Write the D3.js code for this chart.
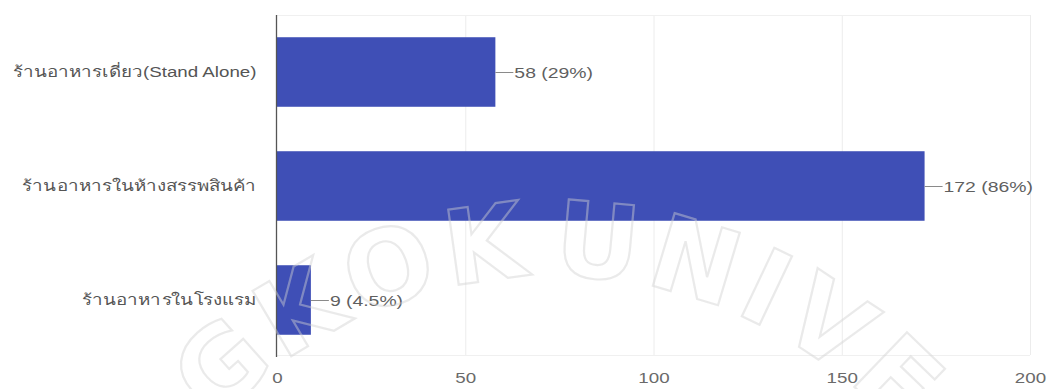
<!DOCTYPE html>
<html>
<head>
<meta charset="utf-8">
<script src="https://cdn.jsdelivr.net/npm/d3@7"></script>
<style>
  html, body { margin: 0; padding: 0; background: #fff; }
  svg { display: block; font-family: Arial, "Liberation Sans", Roboto, "Noto Sans", sans-serif; }
</style>
</head>
<body>
<svg id="chart" width="1049" height="389"></svg>
<script>
// Restaurant types and response counts
const categories = ["ร้านอาหารเดี่ยว(Stand Alone)", "ร้านอาหารในห้างสรรพสินค้า", "ร้านอาหารในโรงแรม"];
const counts = [58, 172, 9];
const percentLabels = ["29%", "86%", "4.5%"];
const xTicks = [0, 50, 100, 150, 200];
const sealWords = ["BANGKOK", "UNIVERSITY"];

const svg = d3.select("#chart");
const W = 1049, H = 389;
const plot = { left: 277, right: 1030, top: 15, bottom: 357 };
const stretch = 1.25; // wide text rendering

const x = d3.scaleLinear().domain([0, 200]).range([plot.left, plot.right]);
const y = d3.scaleBand().domain(categories).range([plot.top, plot.bottom])
  .paddingInner(0.39).paddingOuter(0.195);

// Light gridlines and plot frame
const grid = svg.append("g");
grid.selectAll("line.v").data(xTicks.slice(1)).join("line")
  .attr("x1", d => x(d) + 0.5).attr("x2", d => x(d) + 0.5)
  .attr("y1", plot.top).attr("y2", plot.bottom - 2)
  .attr("stroke", "#ececec").attr("stroke-width", 1);
grid.selectAll("line.h").data([plot.top, plot.bottom - 2]).join("line")
  .attr("x1", plot.left).attr("x2", plot.right)
  .attr("y1", d => d + 0.5).attr("y2", d => d + 0.5)
  .attr("stroke", "#f0f0f0").attr("stroke-width", 1);

// Bars
svg.append("g").selectAll("rect").data(categories).join("rect")
  .attr("x", x(0))
  .attr("y", d => y(d))
  .attr("width", (d, i) => x(counts[i]) - x(0))
  .attr("height", y.bandwidth())
  .attr("fill", "#3f4fb6");

// Value labels with short leader lines
const lab = svg.append("g");
categories.forEach((c, i) => {
  const cy = y(c) + y.bandwidth() / 2;
  const xe = x(counts[i]);
  lab.append("line")
    .attr("x1", xe).attr("x2", xe + 18)
    .attr("y1", cy + 0.5).attr("y2", cy + 0.5)
    .attr("stroke", "#8a8a8a").attr("stroke-width", 1);
  lab.append("text")
    .attr("transform", `translate(${xe + 19},${cy}) scale(${stretch},1)`)
    .attr("dy", "0.36em")
    .attr("font-size", 15.5).attr("fill", "#5f5f5f")
    .text(`${counts[i]} (${percentLabels[i]})`);
});

// Category axis
const yAxis = svg.append("g").attr("transform", `translate(${plot.left - 0.5},0)`)
  .call(d3.axisLeft(y).tickSize(0).tickPadding(16));
yAxis.select(".domain").remove();
yAxis.selectAll("text")
  .attr("transform", `scale(${stretch},1)`)
  .attr("font-size", 15).attr("fill", "#555");
svg.append("line")
  .attr("x1", plot.left - 0.5).attr("x2", plot.left - 0.5)
  .attr("y1", plot.top).attr("y2", plot.bottom)
  .attr("stroke", "#555").attr("stroke-width", 1.3);

// Value axis
const xAxis = svg.append("g").attr("transform", `translate(0,${plot.bottom})`)
  .call(d3.axisBottom(x).tickValues(xTicks).tickSize(0).tickPadding(15));
xAxis.select(".domain").remove();
xAxis.selectAll("text")
  .attr("transform", `scale(${stretch},1)`)
  .attr("font-size", 15).attr("fill", "#6a6a6a");

// Arched outline lettering (seal), one glyph at a time around a circle
const seal = { cx: 553, cy: 738, r: 462, size: 104, gap: 7 };
const sealLayer = svg.append("g")
  .attr("font-size", seal.size)
  .attr("font-family", "'DejaVu Sans', 'Liberation Sans', sans-serif")
  .attr("font-weight", "bold")
  .attr("fill", "none")
  .attr("stroke", "#d0d0d0")
  .attr("stroke-opacity", 0.45)
  .attr("stroke-width", 2.2);

const probe = sealLayer.append("text").attr("opacity", 0);
const glyphWidth = ch => { probe.text(ch); return probe.node().getComputedTextLength(); };

function placeWord(word, edgeDeg, forward) {
  const chars = forward ? word.split("") : word.split("").reverse();
  let ang = edgeDeg * Math.PI / 180;
  chars.forEach(ch => {
    const step = (glyphWidth(ch) + seal.gap) / seal.r;
    const mid = forward ? ang + step / 2 : ang - step / 2;
    ang = forward ? ang + step : ang - step;
    const px = seal.cx + seal.r * Math.sin(mid);
    const py = seal.cy - seal.r * Math.cos(mid);
    if (py > H + 30 || px < -60 || px > W + 60) return;
    sealLayer.append("text")
      .attr("transform", `translate(${px},${py}) rotate(${mid * 180 / Math.PI})`)
      .attr("text-anchor", "middle")
      .text(ch);
  });
}
placeWord(sealWords[0], -2.5, false);
placeWord(sealWords[1], -0.5, true);
probe.remove();
</script>
</body>
</html>
